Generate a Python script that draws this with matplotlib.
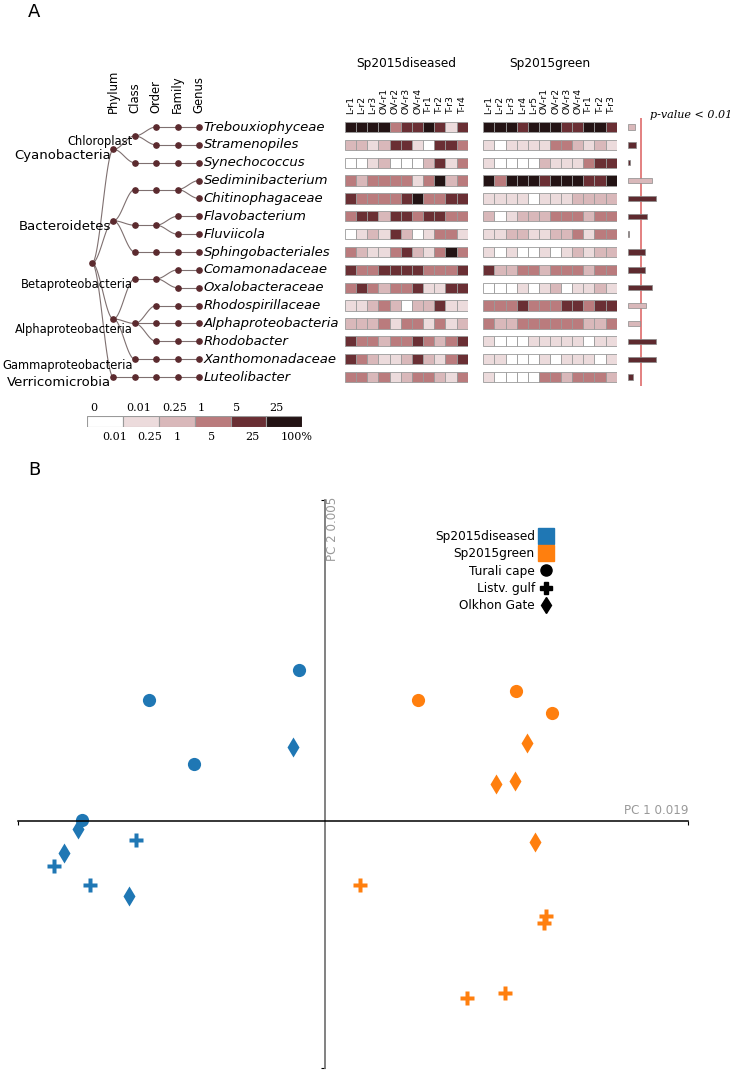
import numpy as np
import matplotlib
matplotlib.use('Agg')
import matplotlib.pyplot as plt
from matplotlib.lines import Line2D

W, H = 738, 1070

genera = ['Trebouxiophyceae', 'Stramenopiles', 'Synechococcus', 'Sediminibacterium',
          'Chitinophagaceae', 'Flavobacterium', 'Fluviicola', 'Sphingobacteriales',
          'Comamonadaceae', 'Oxalobacteraceae', 'Rhodospirillaceae', 'Alphaproteobacteria',
          'Rhodobacter', 'Xanthomonadaceae', 'Luteolibacter']

# phylum|class|order|family, names starting with "_" are unlabeled nodes
lineage = ['Cyanobacteria|Chloroplast|_o1|_f1',
           'Cyanobacteria|Chloroplast|_o2|_f2',
           'Cyanobacteria|_c|_o|_f',
           'Bacteroidetes|_c1|_o|_f',
           'Bacteroidetes|_c1|_o|_f',
           'Bacteroidetes|_c2|_o|_f1',
           'Bacteroidetes|_c2|_o|_f2',
           'Bacteroidetes|_c3|_o|_f',
           '_Proteobacteria|Betaproteobacteria|_o|_f1',
           '_Proteobacteria|Betaproteobacteria|_o|_f2',
           '_Proteobacteria|Alphaproteobacteria|_o1|_f',
           '_Proteobacteria|Alphaproteobacteria|_o2|_f',
           '_Proteobacteria|Alphaproteobacteria|_o3|_f',
           '_Proteobacteria|Gammaproteobacteria|_o|_f',
           'Verricomicrobia|_c|_o|_f']
ranks = ['Phylum', 'Class', 'Order', 'Family', 'Genus']

diseased_cols = ['L-r1', 'L-r2', 'L-r3', 'OV-r1', 'OV-r2', 'OV-r3', 'OV-r4',
                 'T-r1', 'T-r2', 'T-r3', 'T-r4']
green_cols = ['L-r1', 'L-r2', 'L-r3', 'L-r4', 'L-r5', 'OV-r1', 'OV-r2', 'OV-r3',
              'OV-r4', 'T-r1', 'T-r2', 'T-r3']

# abundance class: 0 <0.01%, 1 0.01-0.25, 2 0.25-1, 3 1-5, 4 5-25, 5 25-100
diseased_levels = [
    [5, 5, 5, 5, 3, 4, 4, 5, 4, 1, 4],
    [2, 2, 1, 2, 4, 4, 1, 0, 4, 4, 3],
    [0, 0, 1, 2, 0, 0, 0, 2, 4, 1, 3],
    [3, 2, 3, 3, 3, 3, 1, 3, 5, 2, 3],
    [4, 3, 3, 3, 3, 4, 5, 3, 3, 4, 4],
    [3, 4, 4, 2, 4, 4, 3, 4, 4, 3, 3],
    [0, 1, 2, 1, 4, 2, 0, 1, 3, 3, 1],
    [3, 2, 1, 1, 3, 4, 2, 1, 3, 5, 3],
    [4, 3, 3, 4, 4, 4, 4, 3, 3, 3, 4],
    [3, 4, 3, 2, 3, 3, 4, 1, 1, 4, 4],
    [1, 1, 2, 3, 2, 0, 2, 2, 4, 1, 1],
    [2, 2, 2, 3, 1, 3, 3, 1, 3, 1, 2],
    [4, 3, 3, 2, 3, 3, 4, 3, 2, 3, 4],
    [4, 3, 2, 1, 1, 2, 4, 2, 1, 3, 4],
    [3, 3, 2, 3, 1, 2, 3, 3, 2, 1, 3]]
green_levels = [
    [5, 5, 5, 4, 5, 5, 5, 4, 4, 5, 5, 4],
    [1, 0, 1, 1, 1, 1, 3, 3, 2, 1, 2, 1],
    [1, 0, 0, 0, 0, 2, 1, 1, 1, 3, 4, 4],
    [5, 3, 5, 5, 5, 4, 5, 5, 5, 4, 4, 5],
    [1, 1, 1, 1, 0, 1, 1, 1, 2, 2, 2, 2],
    [2, 0, 1, 2, 2, 2, 3, 3, 3, 2, 3, 3],
    [1, 1, 2, 2, 1, 1, 2, 2, 3, 1, 3, 3],
    [1, 0, 1, 0, 0, 1, 0, 1, 2, 1, 2, 2],
    [4, 2, 2, 3, 3, 2, 3, 3, 3, 2, 3, 3],
    [0, 0, 0, 1, 0, 1, 2, 0, 1, 1, 2, 1],
    [3, 3, 3, 4, 3, 3, 3, 4, 4, 3, 4, 4],
    [3, 2, 2, 3, 3, 3, 3, 3, 3, 2, 2, 3],
    [1, 0, 0, 0, 1, 1, 1, 1, 1, 0, 1, 1],
    [1, 1, 0, 0, 0, 1, 0, 1, 1, 1, 0, 1],
    [1, 0, 0, 0, 0, 3, 3, 2, 3, 3, 3, 2]]

# -log10(p) of the group difference and the group with higher abundance
pval_score = [1.1, 1.25, 0.25, 3.7, 4.3, 2.9, 0.2, 2.6, 2.6, 3.7, 2.8, 1.85, 4.3, 4.3, 0.8]
higher_in = ['green', 'diseased', 'diseased', 'green', 'diseased', 'diseased', 'diseased',
             'diseased', 'diseased', 'diseased', 'green', 'green', 'diseased', 'diseased',
             'diseased']
p_threshold = 2.0

level_colors = ['#ffffff', '#ecdbdc', '#d9b8ba', '#ba7b7d', '#6a2f34', '#231314']
level_top = ['0', '0.01', '0.25', '1', '5', '25']
level_bottom = ['0.01', '0.25', '1', '5', '25', '100%']
level_bottom_pos = [0.77, 1.75, 2.5, 3.48, 4.62, 5.85]

# PCA
pca_group = ['Sp2015diseased'] * 11 + ['Sp2015green'] * 12
pca_site = (['T'] * 4 + ['OV'] * 4 + ['L'] * 3 +
            ['T'] * 3 + ['OV'] * 4 + ['L'] * 5)
pca_x = [-0.026, -0.176, -0.131, -0.243, -0.032, -0.247, -0.261, -0.196, -0.189, -0.271, -0.235,
         0.093, 0.191, 0.227, 0.202, 0.171, 0.190, 0.210, 0.035, 0.221, 0.219, 0.142, 0.180]
pca_y = [0.151, 0.121, 0.057, 0.001, 0.074, -0.008, -0.032, -0.075, -0.019, -0.045, -0.064,
         0.121, 0.130, 0.108, 0.078, 0.037, 0.040, -0.021, -0.064, -0.095, -0.102, -0.177, -0.172]
pca_xlim = (-0.307, 0.363)
pca_ylim = (-0.247, 0.321)
group_colors = {'Sp2015diseased': '#1f77b4', 'Sp2015green': '#ff7f0e'}
site_names = {'T': 'Turali cape', 'L': 'Listv. gulf', 'OV': 'Olkhon Gate'}
site_markers = {'T': 'o', 'L': 'P', 'OV': 'd'}
site_ms = {'T': 9.5, 'L': 10.5, 'OV': 10}

fig = plt.figure(figsize=(W / 100, H / 100), dpi=100)


def px_axes(x0, y0, x1, y1):
    return fig.add_axes([x0 / W, 1 - y1 / H, (x1 - x0) / W, (y1 - y0) / H])


row_step = 17.86
row_top = 127 - row_step / 2
row_bot = 127 + 14 * row_step + row_step / 2
n = len(genera)

# ---- tree ----
tax = px_axes(0, row_top, 345, row_bot)
tax.set_xlim(0, 345)
tax.set_ylim(n - 0.5, -0.5)
tax.axis('off')

tree = {}
for i, path in enumerate(lineage):
    node = tree
    for part in path.split('|'):
        node = node.setdefault(part, {})
    node[genera[i]] = {}
leaf_row = {g: i for i, g in enumerate(genera)}
node_col = '#5b2a2e'


def depth_x(d):
    return 92 + 21.4 * d


def edge(x0, y0, x1, y1):
    t = np.linspace(0, 1, 40)
    tax.plot(x0 + (x1 - x0) * t, y0 + (y1 - y0) * (1 - np.cos(np.pi * t)) / 2,
             color='#7f7070', lw=0.8, zorder=1)


def draw(name, children, depth):
    if not children:
        y = leaf_row[name]
    else:
        ys = [draw(k, v, depth + 1) for k, v in children.items()]
        y = (min(ys) + max(ys)) / 2
        for cy in ys:
            edge(depth_x(depth), y, depth_x(depth + 1), cy)
    tax.plot(depth_x(depth), y, 'o', color=node_col, ms=3.8, zorder=2)
    if depth in (1, 2) and not name.startswith('_'):
        tax.text(depth_x(depth) - 2, y + 0.33, name, ha='right', va='center',
                 fontsize=9.5 if depth == 1 else 8.3)
    return y


draw('root', tree, 0)
for i, g in enumerate(genera):
    tax.text(depth_x(5) + 4.5, i, g, style='italic', fontsize=9.5, va='center')
for d, r in enumerate(ranks):
    tax.text(depth_x(d + 1), -0.8, r, rotation=90, ha='center', va='bottom', fontsize=8.4)

# ---- heatmaps ----
def heatmap(x0, x1, levels, cols, title):
    ax = px_axes(x0, row_top, x1, row_bot)
    lv = np.array(levels)
    for j in range(lv.shape[1]):
        ax.barh(np.arange(n), 1, left=j, height=0.58,
                color=[level_colors[v] for v in lv[:, j]],
                edgecolor='#9a9a9a', linewidth=0.6)
    ax.set_xlim(0, lv.shape[1])
    ax.set_ylim(n - 0.5, -0.5)
    ax.set_xticks(np.arange(lv.shape[1]) + 0.5)
    ax.set_xticklabels(cols, rotation=90, fontsize=6.7)
    ax.xaxis.tick_top()
    ax.tick_params(length=0, pad=3)
    ax.set_yticks([])
    for s in ax.spines.values():
        s.set_visible(False)
    ax.annotate(title, xy=(0.5, 1), xycoords='axes fraction', xytext=(0, 39.6),
                textcoords='offset points', ha='center', va='center', fontsize=8.7)
    return ax


heatmap(345, 467.7, diseased_levels, diseased_cols, 'Sp2015diseased')
heatmap(483.3, 616.7, green_levels, green_cols, 'Sp2015green')

# ---- p-value bars ----
pax = px_axes(628, row_top, 660.5, row_bot)
bar_cols = [level_colors[2] if h == 'green' else '#5e2a2f' for h in higher_in]
pax.barh(np.arange(n), pval_score, height=0.3, color=bar_cols,
         edgecolor='#8a8a8a', linewidth=0.5)
pax.axvline(p_threshold, color='#e07676', lw=1.3, zorder=0)
pax.set_xlim(0, 5)
pax.set_ylim(n - 0.5, -0.5)
pax.axis('off')
pax.annotate('p-value < 0.01', xy=(p_threshold, 1), xycoords=('data', 'axes fraction'),
             xytext=(6.5, 2.3), textcoords='offset points', ha='left', va='center',
             fontsize=8, family='DejaVu Serif', style='italic')

# ---- abundance legend ----
lax = px_axes(87.3, 415.7, 302.3, 427.3)
lax.bar(np.arange(6), 1, width=1, align='edge', color=level_colors,
        edgecolor='#9a9a9a', linewidth=0.8)
lax.set_xlim(0, 6)
lax.set_ylim(0, 1)
lax.axis('off')
for i, t in enumerate(level_top):
    lax.annotate(t, xy=(i + 0.08, 1), xycoords='data', xytext=(0, 5.5),
                 textcoords='offset points', ha='left', va='center',
                 fontsize=8, family='DejaVu Serif')
for xp, t in zip(level_bottom_pos, level_bottom):
    lax.annotate(t, xy=(xp, 0), xycoords='data', xytext=(0, -6.8),
                 textcoords='offset points', ha='center', va='center',
                 fontsize=8, family='DejaVu Serif')

fig.text(34 / W, 1 - 12 / H, 'A', fontsize=13, ha='center', va='center')
fig.text(34 / W, 1 - 470 / H, 'B', fontsize=13, ha='center', va='center')

# ---- PCA ----
bax = px_axes(18, 500, 688, 1068)
for g, s, x, y in zip(pca_group, pca_site, pca_x, pca_y):
    bax.plot(x, y, site_markers[s], color=group_colors[g], ms=site_ms[s], mec='none')
bax.set_xlim(*pca_xlim)
bax.set_ylim(*pca_ylim)
bax.spines['left'].set_position(('data', 0))
bax.spines['bottom'].set_position(('data', 0))
bax.spines['top'].set_visible(False)
bax.spines['right'].set_visible(False)
bax.spines['left'].set_color('#777777')
bax.spines['left'].set_linewidth(1.3)
bax.spines['bottom'].set_linewidth(1.1)
bax.set_xticks(pca_xlim)
bax.set_yticks(pca_ylim)
bax.set_xticklabels([])
bax.set_yticklabels([])
bax.tick_params(length=3)
bax.annotate('PC 1 0.019', xy=(pca_xlim[1], 0), xytext=(0, 7.2), textcoords='offset points',
             ha='right', va='center', fontsize=8.6, color='#999999')
bax.annotate('PC 2 0.005', xy=(0, pca_ylim[1]), xytext=(1, 2.5), textcoords='offset points',
             ha='left', va='top', rotation=90, fontsize=8.6, color='#999999')

handles = [Line2D([], [], marker='s', ls='', color=group_colors[g], ms=11)
           for g in group_colors]
handles += [Line2D([], [], marker=site_markers[s], ls='', color='black',
                   ms={'T': 8, 'L': 9, 'OV': 8.5}[s]) for s in ['T', 'L', 'OV']]
labels = list(group_colors) + [site_names[s] for s in ['T', 'L', 'OV']]
bax.legend(handles, labels, markerfirst=False, frameon=False, loc='upper right',
           bbox_to_anchor=(553 / W, 1 - 530 / H), bbox_transform=fig.transFigure,
           borderaxespad=0, borderpad=0, handletextpad=0.3, handlelength=1.2,
           labelspacing=0.36, fontsize=8.7)

fig.savefig('out.png', dpi=100)
